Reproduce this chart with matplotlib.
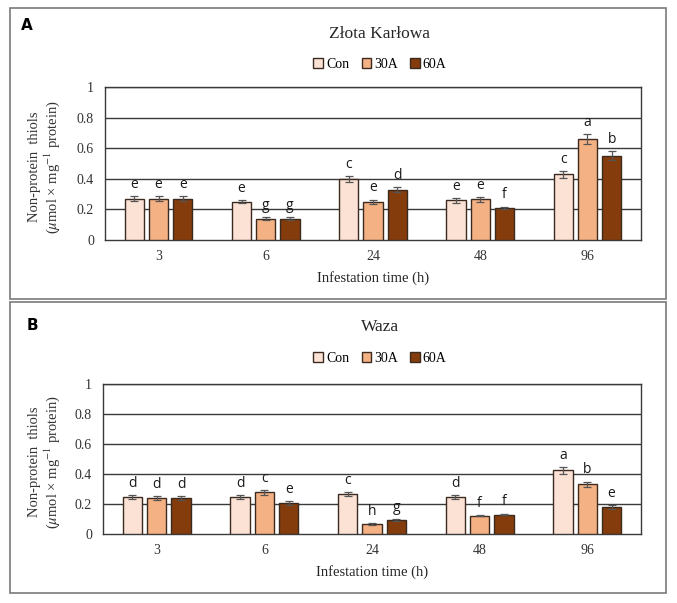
import numpy as np
import matplotlib
matplotlib.use("Agg")
import matplotlib.pyplot as plt
from matplotlib.patches import Rectangle

plt.rcParams['font.family'] = ['Liberation Serif', 'DejaVu Serif']
plt.rcParams['mathtext.fontset'] = 'stix'

times = ['3', '6', '24', '48', '96']
series = ['Con', '30A', '60A']
colors = ['#FBE2D5', '#F4B183', '#843C0C']

# panel A - Złota Karłowa
a_vals = [[0.27, 0.25, 0.40, 0.26, 0.43],
          [0.27, 0.14, 0.25, 0.265, 0.66],
          [0.27, 0.14, 0.33, 0.21, 0.55]]
a_err = [[0.015, 0.011, 0.02, 0.015, 0.022],
         [0.015, 0.008, 0.014, 0.015, 0.033],
         [0.015, 0.008, 0.014, 0.008, 0.03]]
a_letters = [['e', 'e', 'c', 'e', 'c'],
             ['e', 'g', 'e', 'e', 'a'],
             ['e', 'g', 'd', 'f', 'b']]

# panel B - Waza
b_vals = [[0.245, 0.248, 0.265, 0.245, 0.424],
          [0.24, 0.278, 0.066, 0.123, 0.331],
          [0.24, 0.209, 0.095, 0.13, 0.179]]
b_err = [[0.014, 0.013, 0.013, 0.013, 0.022],
         [0.013, 0.015, 0.005, 0.005, 0.018],
         [0.013, 0.013, 0.005, 0.006, 0.015]]
b_letters = [['d', 'd', 'c', 'd', 'a'],
             ['d', 'c', 'h', 'f', 'b'],
             ['d', 'e', 'g', 'f', 'e']]

yticks = [0, 0.2, 0.4, 0.6, 0.8, 1]
ytick_labels = ['0', '0.2', '0.4', '0.6', '0.8', '1']

W, H = 677, 603
fig = plt.figure(figsize=(W / 100, H / 100), dpi=100)


def px(left, top, right, bottom):
    return [left / W, 1 - bottom / H, (right - left) / W, (bottom - top) / H]


def panel(rect, vals, errs, letters, title, tag, box, title_y, leg_y, tag_xy):
    # outer frame of the panel
    bx0, by0, bx1, by1 = box
    fig.patches.append(Rectangle((bx0 / W, 1 - by1 / H), (bx1 - bx0) / W, (by1 - by0) / H,
                                 transform=fig.transFigure, fill=False,
                                 edgecolor='#7a7a7a', lw=1.2))
    fig.text(tag_xy[0] / W, 1 - tag_xy[1] / H, tag, family='DejaVu Sans',
             weight='bold', fontsize=11, ha='center', va='center')
    fig.text(380 / W, 1 - title_y / H, title, fontsize=12.5, ha='center',
             va='center', color='#262626')

    ax = fig.add_axes(px(*rect))
    x = np.arange(len(times))
    width = 0.18
    step = 0.226
    handles = []
    for i, s in enumerate(series):
        pos = x + (i - 1) * step
        b = ax.bar(pos, vals[i], width, yerr=errs[i], color=colors[i],
                   edgecolor='#3b2a20', linewidth=1.0, label=s, zorder=3,
                   error_kw=dict(ecolor='#555555', elinewidth=0.9, capsize=3,
                                 capthick=0.9, zorder=4))
        handles.append(b)
        for j in range(len(times)):
            ax.annotate(letters[i][j], (pos[j], vals[i][j] + errs[i][j]),
                        xytext=(0, 3), textcoords='offset points',
                        ha='center', va='bottom', family='Open Sans',
                        fontsize=10, color='#1a1a1a')

    ax.set_xlim(-0.5, len(times) - 0.5)
    ax.set_ylim(0, 1)
    ax.set_xticks(x)
    ax.set_xticklabels(times, fontsize=10, color='#333333')
    ax.set_yticks(yticks)
    ax.set_yticklabels(ytick_labels, fontsize=10, color='#333333')
    ax.tick_params(length=0, pad=8)
    ax.tick_params(axis='x', pad=7)
    for yv in yticks[1:]:
        ax.axhline(yv, color='#3a3a3a', lw=1.0, zorder=1)
    for sp in ax.spines.values():
        sp.set_color('#3a3a3a')
        sp.set_linewidth(1.0)
    ax.set_xlabel('Infestation time (h)', fontsize=10.5, color='#262626', labelpad=6)
    ax.set_ylabel('Non-protein  thiols\n' + r'($\mu$mol × mg$^{-1}$ protein)',
                  fontsize=10.5, color='#333333', linespacing=1.1)
    ax.yaxis.label.set_va('center')
    ax.yaxis.set_label_coords((45 - rect[0]) / (rect[2] - rect[0]), 0.48)

    ax.legend(handles=handles, loc='center', bbox_to_anchor=(380 / W, 1 - leg_y / H),
              bbox_transform=fig.transFigure, ncol=3, frameon=False,
              handlelength=0.7, handleheight=0.7, handletextpad=0.2,
              columnspacing=0.9, fontsize=10)
    return ax


panel((105, 87, 641, 240), a_vals, a_err, a_letters, 'Złota Karłowa', 'A',
      (10, 8, 666, 299), 34, 64, (27, 26))
panel((103, 384, 641, 534), b_vals, b_err, b_letters, 'Waza', 'B',
      (10, 302, 666, 593), 327, 358, (32, 325))

fig.savefig('out.png', dpi=100)
